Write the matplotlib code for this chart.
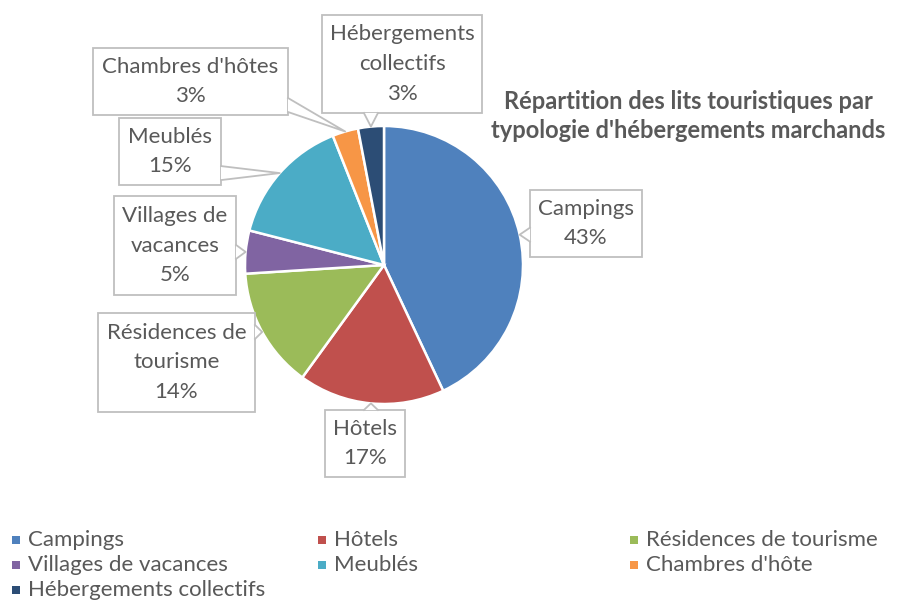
import matplotlib.pyplot as plt
import numpy as np
from matplotlib.patches import Rectangle, Polygon

plt.rcParams['font.family'] = ['Lato', 'DejaVu Sans']

categories = ['Campings', 'Hôtels', 'Résidences de tourisme', 'Villages de vacances',
              'Meublés', "Chambres d'hôte", 'Hébergements collectifs']
values = [43, 17, 14, 5, 15, 3, 3]
label_texts = ['Campings', 'Hôtels', 'Résidences de\ntourisme', 'Villages de\nvacances',
               'Meublés', "Chambres d'hôtes", 'Hébergements\ncollectifs']
colors = ['#4F81BD', '#C0504D', '#9BBB59', '#8064A2', '#4BACC6', '#F79646', '#2C4D75']

# label boxes in pixel coords (x0, y0, x1, y1) and the side the pointer leaves from
boxes = [(530, 190, 642, 257, 'left'),
         (325, 410, 405, 477, 'top'),
         (98, 313, 255, 412, 'right'),
         (114, 196, 236, 295, 'right'),
         (119, 118, 221, 185, 'right'),
         (93, 48, 288, 115, 'right'),
         (322, 15, 482, 113, 'bottom')]

grey_txt = '#595959'
grey_edge = '#BFBFBF'
fs = 16

fig = plt.figure(figsize=(8.97, 6.01), dpi=100)
ax = fig.add_axes([0, 0, 1, 1])

cx, cy, r = 384, 265, 139
wedges, _ = ax.pie(values, colors=colors, startangle=-90, counterclock=True,
                   center=(cx, cy), radius=r,
                   wedgeprops=dict(edgecolor='white', linewidth=1.8))
ax.set_xlim(0, 897)
ax.set_ylim(601, 0)
ax.set_aspect('equal')
ax.axis('off')

for w, txt, pct, (x0, y0, x1, y1, side) in zip(wedges, label_texts, values, boxes):
    th = np.deg2rad((w.theta1 + w.theta2) / 2)
    tx, ty = cx + r * np.cos(th), cy + r * np.sin(th)
    ax.add_patch(Rectangle((x0, y0), x1 - x0, y1 - y0, facecolor='white',
                           edgecolor=grey_edge, linewidth=1.3, zorder=3))
    hw, m = 7, 10
    if side in ('left', 'right'):
        bx = x0 if side == 'left' else x1
        by = min(max(ty, y0 + m), y1 - m)
        b1, b2 = (bx, by - hw), (bx, by + hw)
    else:
        by = y0 if side == 'top' else y1
        bx = min(max(tx, x0 + m), x1 - m)
        b1, b2 = (bx - hw, by), (bx + hw, by)
    ax.add_patch(Polygon([b1, (tx, ty), b2], closed=True, facecolor='white',
                         edgecolor='none', zorder=4))
    ax.plot([b1[0], tx, b2[0]], [b1[1], ty, b2[1]], color=grey_edge, lw=1.3, zorder=5)
    ax.text((x0 + x1) / 2, (y0 + y1) / 2, f'{txt}\n{pct}%', ha='center', va='center',
            fontsize=fs, color=grey_txt, linespacing=1.62, zorder=6)

ax.text(688, 116, "Répartition des lits touristiques par\ntypologie d'hébergements marchands",
        ha='center', va='center', fontsize=17, fontweight='bold', color=grey_txt,
        linespacing=1.35)

# legend, row-major in three equal columns
col_x = [12, 318, 630]
row_y = [540, 565, 590]
for i, (cat, col) in enumerate(zip(categories, colors)):
    x = col_x[i % 3]
    y = row_y[i // 3]
    ax.add_patch(Rectangle((x, y - 4), 8, 8, facecolor=col, edgecolor='none'))
    ax.text(x + 16, y, cat, ha='left', va='center', fontsize=fs, color=grey_txt)

fig.savefig('out.png', dpi=100)
